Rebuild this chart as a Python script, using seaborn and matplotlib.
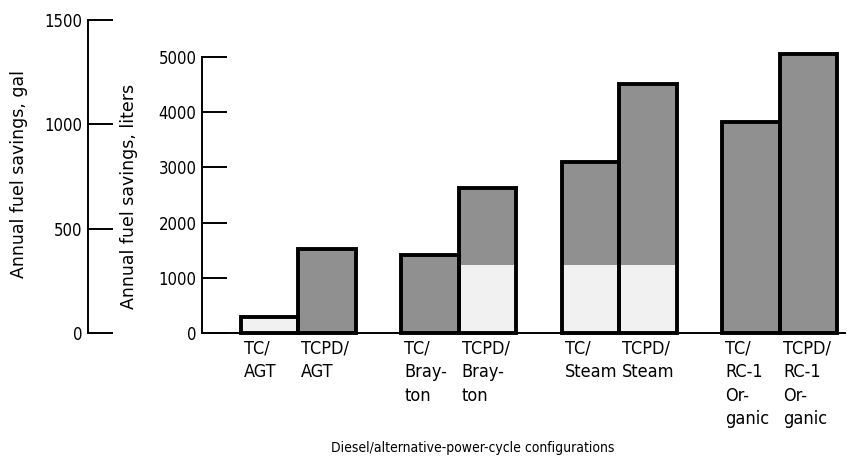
import matplotlib
matplotlib.use("Agg")
import matplotlib.pyplot as plt
import seaborn as sns
import pandas as pd

# ---- data ----
groups = ["AGT", "Brayton", "Steam", "RC-1 Organic"]
kinds = ["TC", "TCPD"]
tc_liters = [290, 1410, 3100, 3820]
tcpd_liters = [1520, 2630, 4515, 5060]
tc_light = [290, 0, 1230, 0]          # lightly stippled lower portion
tcpd_light = [0, 1230, 1230, 0]
bar_labels = ["TC/\nAGT", "TCPD/\nAGT",
              "TC/\nBray-\nton", "TCPD/\nBray-\nton",
              "TC/\nSteam", "TCPD/\nSteam",
              "TC/\nRC-1\nOr-\nganic", "TCPD/\nRC-1\nOr-\nganic"]
gal_ticks = [0, 500, 1000, 1500]
liter_ticks = [0, 1000, 2000, 3000, 4000, 5000]

rows = []
for i, g in enumerate(groups):
    rows.append({"group": g, "kind": "TC", "liters": tc_liters[i], "light": tc_light[i]})
    rows.append({"group": g, "kind": "TCPD", "liters": tcpd_liters[i], "light": tcpd_light[i]})
df = pd.DataFrame(rows)

sns.set_theme(style="white")
plt.rcParams["font.family"] = ["DejaVu Sans"]
plt.rcParams["font.stretch"] = "condensed"
plt.rcParams["axes.linewidth"] = 1.4
plt.rcParams["text.color"] = "black"
plt.rcParams["axes.labelcolor"] = "black"

W, H = 847, 466
fig = plt.figure(figsize=(W / 100, H / 100), dpi=100)
fig.patch.set_facecolor("white")

# liters axes
ax = fig.add_axes([202 / W, (H - 333) / H, 643 / W, 276 / H])
ax.set_facecolor("none")

bw = 0.716
dark = "#909090"
light = "#f1f1f1"
sns.barplot(data=df, x="group", y="liters", hue="kind", hue_order=kinds, order=groups,
            palette=[dark, dark], width=bw, dodge=True, gap=0, linewidth=0,
            edgecolor="none", legend=False, ax=ax, saturation=1, err_kws={"linewidth": 0})
sns.barplot(data=df, x="group", y="light", hue="kind", hue_order=kinds, order=groups,
            palette=[light, light], width=bw, dodge=True, gap=0, linewidth=0,
            edgecolor="none", legend=False, ax=ax, saturation=1, err_kws={"linewidth": 0})
n_before = len(ax.patches)
sns.barplot(data=df, x="group", y="liters", hue="kind", hue_order=kinds, order=groups,
            palette=["black", "black"], width=bw, dodge=True, gap=0, fill=False,
            linewidth=2.8, legend=False, ax=ax, saturation=1, err_kws={"linewidth": 0})
for p in ax.patches:
    p.set_clip_on(False)
for p in ax.patches[n_before:]:
    p.set_facecolor("none")
    p.set_edgecolor("black")
    p.set_joinstyle("miter")

ax.set_ylim(0, 5000)
ax.set_xlim(-0.598, 3.405)
ax.set_yticks(liter_ticks)
ax.set_yticklabels([str(t) for t in liter_ticks])
ax.tick_params(axis="y", direction="in", length=18, width=1.4, pad=4,
               labelsize=12, left=True, colors="black")

# per-bar labels, left aligned under each bar
lefts = sorted(p.get_x() for p in ax.patches[n_before:] if p.get_width() > 0)
off = 3 / 160.67
ax.set_xticks([x + off for x in lefts])
ax.set_xticklabels(bar_labels, ha="left", fontsize=13, linespacing=1.39)
ax.tick_params(axis="x", length=0, pad=5, colors="black")

for s in ["top", "right"]:
    ax.spines[s].set_visible(False)
ax.spines["left"].set_color("black")
ax.spines["bottom"].set_color("black")
ax.set_xlabel("Diesel/alternative-power-cycle configurations", fontsize=10)
ax.xaxis.set_label_coords(0.421, -0.39)
ax.set_ylabel("Annual fuel savings, liters", fontsize=12.5, fontstretch="normal")
ax.yaxis.set_label_coords(-0.0995, 0.493)

# gallons axes
axg = fig.add_axes([88 / W, (H - 333) / H, 30 / W, 313 / H])
axg.set_facecolor("none")
axg.set_ylim(0, 1500)
axg.set_xticks([])
axg.set_yticks(gal_ticks)
axg.set_yticklabels([str(t) for t in gal_ticks])
axg.tick_params(axis="y", direction="in", length=18, width=1.4, pad=4,
                labelsize=12, left=True, colors="black")
for s in ["top", "right", "bottom"]:
    axg.spines[s].set_visible(False)
axg.spines["left"].set_color("black")
axg.set_ylabel("Annual fuel savings, gal", fontsize=12.5, fontstretch="normal")
axg.yaxis.set_label_coords(-2.0, 0.508)

fig.savefig("out.png", dpi=100)
